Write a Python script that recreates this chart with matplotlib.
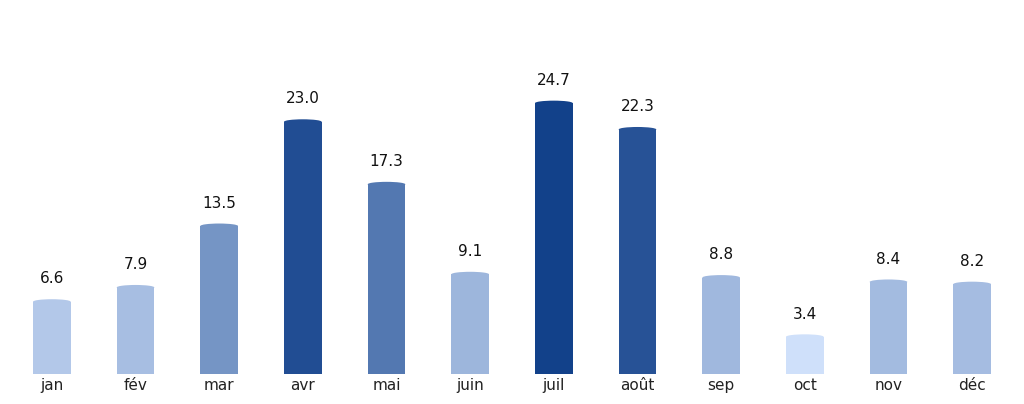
import matplotlib.pyplot as plt
import numpy as np
from matplotlib.patches import Ellipse
from matplotlib.colors import LinearSegmentedColormap, Normalize

months = ["jan", "fév", "mar", "avr", "mai", "juin", "juil", "août", "sep", "oct", "nov", "déc"]
values = [6.6, 7.9, 13.5, 23.0, 17.3, 9.1, 24.7, 22.3, 8.8, 3.4, 8.4, 8.2]

cmap = LinearSegmentedColormap.from_list("bleus", ["#cfe0fa", "#12418a"])
norm = Normalize(vmin=min(values), vmax=max(values))
colors = [cmap(norm(v)) for v in values]

fig = plt.figure(figsize=(10.24, 4.04), dpi=100)
ax = fig.add_axes([0.0098, 0.074, 0.9804, 0.85])

x = np.arange(len(months))
width = 0.45
ax.bar(x, values, width=width, color=colors, zorder=2)

# petit arrondi en haut des barres
for xi, v, c in zip(x, values, colors):
    ax.add_patch(Ellipse((xi, v), width, 0.45, color=c, zorder=2, lw=0))
    ax.annotate(f"{v:.1f}", (xi, v), xytext=(0, 11), textcoords="offset points",
                ha="center", va="bottom", fontsize=11, color="#111111")

ax.set_xlim(-0.5, len(months) - 0.5)
ax.set_ylim(0, 31.3)
ax.set_xticks(x)
ax.set_xticklabels(months, fontsize=11, color="#222222")
ax.tick_params(axis="x", length=0, pad=3)
ax.set_yticks([])
for s in ax.spines.values():
    s.set_visible(False)

fig.savefig("out.png", dpi=100)
